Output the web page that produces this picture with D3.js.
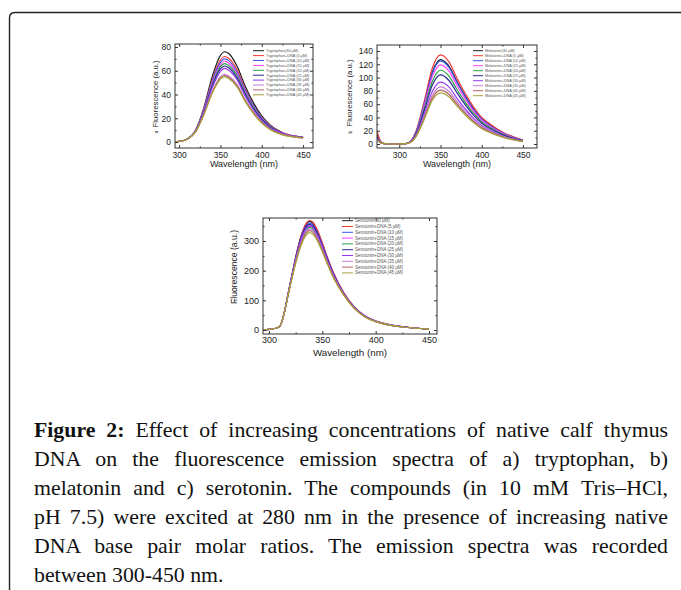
<!DOCTYPE html>
<html>
<head>
<meta charset="utf-8">
<script src="https://cdn.jsdelivr.net/npm/d3@7"></script>
<style>
  body { margin: 0; background: #fff; }
  #wrap { position: relative; width: 681px; height: 590px; overflow: hidden; }
  #wrap svg { position: absolute; left: 0; top: 0; }
  .caption { position: absolute; left: 34px; top: 416px; width: 634px;
             font-family: "Liberation Serif", "Times New Roman", serif; font-size: 21.8px; color: #111; }
  .cap-line { height: 29px; line-height: 29px; text-align: justify; text-align-last: justify; }
  .cap-line.last { text-align: left; text-align-last: left; }
</style>
</head>
<body>
<div id="wrap"></div>
<script>

// ---- data ----
var seriesColors = ['#1c1c1c', '#f03a3a', '#3a58ee', '#ff40ff', '#2aa045', '#2a2a92', '#9a3af0', '#c27fd2', '#b46464', '#a3a236']
var concLabels = ['(30 µM)', '+DNA (5 µM)', '+DNA (10 µM)', '+DNA (15 µM)', '+DNA (20 µM)',
                  '+DNA (25 µM)', '+DNA (30 µM)', '+DNA (35 µM)', '+DNA (40 µM)', '+DNA (45 µM)']
var xTicks = [300, 350, 400, 450]
var xMinor = [325, 375, 425]

// a) tryptophan
var trpWave = [295, 300, 310, 320, 330, 340, 350, 355, 360, 370, 380, 390, 400, 410, 425, 450]
var trpSeries = [
  [0.3, 0.5, 2.5, 10, 29, 55, 73, 76, 74.5, 64, 47, 33, 22, 14.5, 8, 4],
  [0.3, 0.5, 2.5, 10, 28, 52, 69, 72, 70.5, 61, 44.5, 31, 21, 14, 7.5, 4],
  [0.3, 0.5, 2.5, 10, 27.5, 51, 67, 70, 68.5, 59, 43.5, 30.5, 20.5, 13.5, 7.5, 4],
  [0.3, 0.5, 2.5, 9.5, 27, 49.5, 65, 68, 66.5, 57.5, 42, 29.5, 20, 13, 7.5, 4],
  [0.3, 0.5, 2.5, 9.5, 26.5, 48, 63.5, 66, 64.5, 56, 41, 29, 19.5, 13, 7, 3.8],
  [0.3, 0.5, 2.5, 9.5, 26, 47, 61.5, 64, 62.5, 54, 40, 28, 19, 12.5, 7, 3.8],
  [0.3, 0.5, 2.5, 9, 25.5, 45.5, 59.5, 62, 60.5, 52.5, 38.5, 27, 18, 12, 7, 3.7],
  [0.3, 0.5, 2.5, 9, 24, 42, 55, 57, 55.5, 48.5, 35.5, 25, 17, 11, 6.5, 3.5],
  [0.3, 0.5, 2.5, 9, 23.5, 41.5, 54, 56, 54.5, 47.5, 35, 24.5, 16.5, 11, 6.5, 3.5],
  [0.3, 0.5, 2.5, 8.5, 23, 41, 53, 55, 53.5, 46.5, 34, 24, 16, 10.5, 6, 3.4]
]
var trpYTicks = [0, 20, 40, 60, 80]
var trpYMinor = [10, 30, 50, 70]

// b) melatonin
var melWave = [273, 276, 280, 290, 300, 308, 315, 320, 330, 340, 350, 360, 370, 380, 390, 400, 410, 425, 450]
var melSeries = [
  [14, 6, 1, 0, 0, 0.5, 5.7, 17, 60, 108, 127, 117.5, 94, 72, 53, 38, 28.5, 17, 5.7],
  [20, 8, 1, 0, 0, 0.5, 6, 18, 63, 114, 134, 124, 99, 76, 56, 40, 30, 18, 6],
  [12, 5, 1, 0, 0, 0.5, 5.6, 16.8, 59, 106, 125, 115.6, 92.5, 71, 52, 37.5, 28, 16.8, 5.6],
  [10, 4, 1, 0, 0, 0.5, 5.4, 16, 56, 101, 119, 110, 88, 67.5, 50, 35.7, 26.7, 16, 5.4],
  [9, 4, 1, 0, 0, 0.5, 5, 15, 52, 94, 111, 102.7, 82, 63, 46.4, 33.3, 24.9, 14.9, 5],
  [8, 3.5, 1, 0, 0, 0.5, 4.7, 14, 49, 88.4, 104, 96, 77, 59, 43.5, 31.2, 23.3, 14, 4.7],
  [8, 3.5, 1, 0, 0, 0.5, 4.2, 12.5, 43.7, 79, 93, 86, 68.8, 52.7, 38.9, 27.9, 20.8, 12.5, 4.2],
  [7, 3, 1, 0, 0, 0.5, 3.9, 11.5, 40.4, 73, 86, 79.5, 63.6, 48.8, 36, 25.8, 19.3, 11.5, 3.9],
  [6, 3, 1, 0, 0, 0.5, 3.6, 10.9, 38, 69, 81, 75, 60, 46, 33.9, 24.3, 18.1, 10.9, 3.6],
  [6, 3, 1, 0, 0, 0.5, 3.5, 10.3, 36.2, 65.5, 77, 71.2, 57, 43.7, 32.2, 23.1, 17.2, 10.3, 3.5]
]
var melYTicks = [0, 20, 40, 60, 80, 100, 120, 140]
var melYMinor = [10, 30, 50, 70, 90, 110, 130]

// c) serotonin
var serWave = [295, 300, 305, 310, 320, 325, 330, 335, 338, 341, 345, 350, 355, 360, 370, 380, 390, 400, 410, 425, 450]
var serSeries = [
  [0, 2, 5, 12, 160, 245, 315, 358, 366, 360, 335, 290, 240, 195, 125, 77, 47, 30, 20, 11, 3],
  [0, 2, 5, 12, 158, 244, 315, 360, 369, 364, 340, 294, 243, 197, 126, 78, 47, 30, 20, 11, 3],
  [0, 2, 5, 12, 157, 241, 310, 352, 360, 355, 331, 287, 238, 193, 124, 76, 46, 30, 20, 11, 3],
  [0, 2, 5, 12, 155, 237, 304, 345, 352, 347, 324, 281, 233, 190, 122, 75, 46, 29, 19, 11, 3],
  [0, 2, 5, 12, 154, 234, 299, 339, 346, 341, 319, 277, 230, 187, 121, 75, 45, 29, 19, 10, 3],
  [0, 2, 5, 12, 156, 239, 307, 349, 356, 351, 328, 284, 236, 191, 123, 76, 46, 29, 19, 11, 3],
  [0, 2, 5, 12, 155, 236, 302, 343, 350, 345, 322, 280, 232, 189, 122, 75, 46, 29, 19, 11, 3],
  [0, 2, 5, 12, 153, 231, 294, 333, 340, 335, 314, 273, 227, 184, 120, 74, 45, 29, 19, 10, 3],
  [0, 2, 5, 12, 152, 228, 290, 328, 335, 330, 309, 269, 224, 182, 119, 73, 45, 28, 19, 10, 3],
  [0, 2, 5, 12, 150, 224, 284, 321, 328, 323, 303, 264, 220, 179, 117, 72, 44, 28, 18, 10, 3]
]
var serYTicks = [0, 100, 200, 300]
var serYMinor = [50, 150, 250, 350]

var captionLines = [
  '<b>Figure 2:</b> Effect of increasing concentrations of native calf thymus',
  'DNA on the fluorescence emission spectra of a) tryptophan, b)',
  'melatonin and c) serotonin. The compounds (in 10 mM Tris–HCl,',
  'pH 7.5) were excited at 280 nm in the presence of increasing native',
  'DNA base pair molar ratios. The emission spectra was recorded',
  'between 300-450 nm.'
]

// ---- drawing ----
var W = 681, H = 590
var svg = d3.select('#wrap').append('svg').attr('width', W).attr('height', H)

// page border (open box, rounded top-left)
svg.append('path')
  .attr('d', 'M9.5,' + H + ' L9.5,18 Q9.5,12.5 15,12.5 L' + W + ',12.5')
  .attr('fill', 'none').attr('stroke', '#222').attr('stroke-width', 1.4)

function drawPanel(p) {
  var x = d3.scaleLinear().domain(p.xDomain).range([p.left, p.right])
  var y = d3.scaleLinear().domain(p.yDomain).range([p.bottom, p.top])
  var g = svg.append('g')

  g.append('clipPath').attr('id', 'clip-' + p.id)
    .append('rect').attr('x', p.left).attr('y', p.top)
    .attr('width', p.right - p.left).attr('height', p.bottom - p.top)

  var line = d3.line()
    .x(function(d) { return x(d[0]) })
    .y(function(d) { return y(d[1]) })
    .curve(d3.curveMonotoneX)

  g.append('g').attr('clip-path', 'url(#clip-' + p.id + ')')
    .selectAll('path')
    .data(p.series)
    .enter().append('path')
      .attr('d', function(s) { return line(s.map(function(v, i) { return [p.wave[i], v] })) })
      .attr('fill', 'none')
      .attr('stroke', function(s, i) { return seriesColors[i] })
      .attr('stroke-width', 1.2)
      .attr('stroke-linejoin', 'round')

  // frame
  g.append('rect')
    .attr('x', p.left).attr('y', p.top)
    .attr('width', p.right - p.left).attr('height', p.bottom - p.top)
    .attr('fill', 'none').attr('stroke', '#333').attr('stroke-width', 1)

  // major + minor ticks, inward on all four sides
  function axisGroup(axis, tx, ty) {
    var a = g.append('g')
      .attr('transform', 'translate(' + tx + ',' + ty + ')').call(axis)
    a.select('.domain').remove()
    a.selectAll('line').attr('stroke', '#333')
    return a
  }
  var bx = axisGroup(d3.axisBottom(x).tickValues(xTicks).tickSize(-3).tickPadding(p.xPad), 0, p.bottom)
  bx.selectAll('text').attr('font-size', p.tickFont)
  axisGroup(d3.axisBottom(x).tickValues(xMinor).tickSize(-1.6).tickFormat(''), 0, p.bottom)
  axisGroup(d3.axisTop(x).tickValues(xTicks).tickSize(-3).tickFormat(''), 0, p.top)
  axisGroup(d3.axisTop(x).tickValues(xMinor).tickSize(-1.6).tickFormat(''), 0, p.top)

  var ly = axisGroup(d3.axisLeft(y).tickValues(p.yTicks).tickSize(-3).tickPadding(4), p.left, 0)
  ly.selectAll('text').attr('font-size', p.tickFont)
  axisGroup(d3.axisLeft(y).tickValues(p.yMinor).tickSize(-1.6).tickFormat(''), p.left, 0)
  axisGroup(d3.axisRight(y).tickValues(p.yTicks).tickSize(-3).tickFormat(''), p.right, 0)
  axisGroup(d3.axisRight(y).tickValues(p.yMinor).tickSize(-1.6).tickFormat(''), p.right, 0)

  g.selectAll('.tick text').attr('font-family', '"Liberation Sans", Arial, sans-serif').attr('fill', '#222')

  // axis titles
  g.append('text')
    .attr('x', (p.left + p.right) / 2).attr('y', p.xTitleY)
    .attr('text-anchor', 'middle')
    .attr('font-family', '"Liberation Sans", Arial, sans-serif')
    .attr('font-size', p.xTitleFont).attr('fill', '#222')
    .text('Wavelength (nm)')

  g.append('text')
    .attr('transform', 'translate(' + p.yTitleX + ',' + p.yTitleMid + ') rotate(-90)')
    .attr('text-anchor', 'middle')
    .attr('font-family', '"Liberation Sans", Arial, sans-serif')
    .attr('font-size', p.yTitleFont).attr('fill', '#222')
    .text('Fluorescence (a.u.)')

  g.append('text')
    .attr('transform', 'translate(' + p.yTitleX + ',' + p.letterY + ') rotate(-90)')
    .attr('text-anchor', 'middle')
    .attr('font-family', '"Liberation Sans", Arial, sans-serif')
    .attr('font-size', 5).attr('fill', '#333')
    .text(p.letter)

  // legend
  var leg = g.append('g').selectAll('g')
    .data(p.series)
    .enter().append('g')
      .attr('transform', function(s, i) { return 'translate(0,' + (p.legY + i * p.legDy) + ')' })
  leg.append('line')
    .attr('x1', p.legX).attr('x2', p.legX + p.legLen)
    .attr('stroke', function(s, i) { return seriesColors[i] })
    .attr('stroke-width', 1)
  leg.append('text')
    .attr('x', p.legX + p.legLen + 2).attr('dy', '0.35em')
    .attr('font-family', '"Liberation Sans", Arial, sans-serif')
    .attr('font-size', p.legFont).attr('fill', '#555')
    .text(function(s, i) { return p.name + concLabels[i] })
}

drawPanel({
  id: 'a', letter: 'a', name: 'Tryptophan', wave: trpWave, series: trpSeries,
  left: 175, right: 313, top: 44, bottom: 148,
  xDomain: [295, 462], yDomain: [-5, 82.5],
  yTicks: trpYTicks, yMinor: trpYMinor, xPad: 4,
  tickFont: 8.5, xTitleFont: 9, xTitleY: 167, yTitleFont: 7.8, yTitleX: 158, yTitleMid: 94, letterY: 132,
  legX: 253, legLen: 11, legY: 50.7, legDy: 4.9, legFont: 3.8
})

drawPanel({
  id: 'b', letter: 'b', name: 'Melatonin', wave: melWave, series: melSeries,
  left: 377, right: 537, top: 45, bottom: 148,
  xDomain: [273, 467], yDomain: [-6, 149],
  yTicks: melYTicks, yMinor: melYMinor, xPad: 4,
  tickFont: 8.5, xTitleFont: 9, xTitleY: 167, yTitleFont: 7.8, yTitleX: 352, yTitleMid: 93, letterY: 132,
  legX: 473, legLen: 10, legY: 50.7, legDy: 5.0, legFont: 3.8
})

drawPanel({
  id: 'c', letter: 'c', name: 'Serotonin', wave: serWave, series: serSeries,
  left: 263, right: 437, top: 218, bottom: 334,
  xDomain: [294.4, 457.5], yDomain: [-13.5, 377.5],
  yTicks: serYTicks, yMinor: serYMinor, xPad: 3,
  tickFont: 9, xTitleFont: 9.8, xTitleY: 356, yTitleFont: 8.6, yTitleX: 237, yTitleMid: 267, letterY: 300,
  legX: 342, legLen: 11, legY: 220.7, legDy: 5.8, legFont: 4.5
})

// caption
var cap = d3.select('#wrap').append('div').attr('class', 'caption')
cap.selectAll('div')
  .data(captionLines)
  .enter().append('div')
    .attr('class', function(d, i) { return 'cap-line' + (i === captionLines.length - 1 ? ' last' : '') })
    .html(function(d) { return d })

</script>
</body>
</html>
